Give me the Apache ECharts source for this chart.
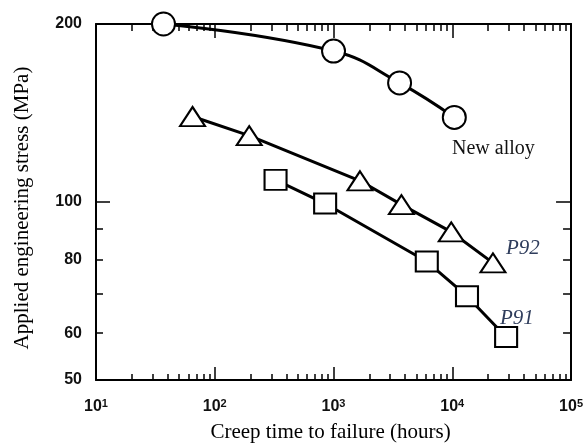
<!DOCTYPE html>
<html><head><meta charset="utf-8">
<script src="https://cdn.jsdelivr.net/npm/echarts@6/dist/echarts.min.js"></script>
<style>html,body{margin:0;padding:0;background:#fff}#c{width:586px;height:448px}</style>
</head><body><div id="c"></div>
<script>
// ---- data ----
const newAlloyHours  = [37, 1000, 3600, 10400];
const newAlloyStress = [200, 180, 159, 139];
const p92Hours  = [65, 195, 1670, 3730, 9800, 22000];
const p92Stress = [139.5, 129.5, 108.6, 99, 89, 78.9];
const p91Hours  = [325, 850, 6100, 13300, 28400];
const p91Stress = [109, 99.4, 79.3, 69.3, 59.1];

// ---- ticks / labels ----
const xMajorTicks = [10, 100, 1000, 10000, 100000];
const xMinorTicks = [20,30,40,50,60,70,80,90, 200,300,400,500,600,700,800,900,
                     2000,3000,4000,5000,6000,7000,8000,9000,
                     20000,30000,40000,50000,60000,70000,80000,90000];
const yLabelValues = [50, 60, 80, 100, 200];
const yMajorTicks = [100];
const yMinorTicks = [60, 70, 80, 90];
const xTitle = 'Creep time to failure (hours)';
const yTitle = 'Applied engineering stress (MPa)';
const seriesNames = ['New alloy', 'P92', 'P91'];

const X_MIN = 10, X_MAX = 100000, Y_MIN = 50, Y_MAX = 200;
const serif = '"Liberation Serif", "Times New Roman", serif';
const sans = '"Liberation Sans", Arial, sans-serif';

function zip(xs, ys) { return xs.map((x, i) => [x, ys[i]]); }

function xAx(pos, ticks, len, opts) {
  return Object.assign({
    type: 'log', logBase: 10, min: X_MIN, max: X_MAX, position: pos,
    axisLine: { show: true, onZero: false, lineStyle: { color: '#000', width: 2 } },
    axisTick: { show: true, inside: true, length: len, customValues: ticks, lineStyle: { color: '#000', width: 1.5 } },
    axisLabel: { show: false },
    splitLine: { show: false }, minorTick: { show: false }, minorSplitLine: { show: false }
  }, opts || {});
}
function yAx(pos, ticks, len, opts) {
  return Object.assign({
    type: 'log', logBase: 10, min: Y_MIN, max: Y_MAX, position: pos,
    axisLine: { show: true, onZero: false, lineStyle: { color: '#000', width: 2 } },
    axisTick: { show: true, inside: true, length: len, customValues: ticks, lineStyle: { color: '#000', width: 1.5 } },
    axisLabel: { show: false },
    splitLine: { show: false }, minorTick: { show: false }, minorSplitLine: { show: false }
  }, opts || {});
}

const chart = echarts.init(document.getElementById('c'), null, { renderer: 'canvas' });
const lineStyle = { color: '#000', width: 3 };
const symStyle = { color: '#fff', borderColor: '#000', borderWidth: 2 };

chart.setOption({
  animation: false,
  backgroundColor: '#fff',
  grid: { left: 96, right: 12, top: 24, bottom: 62, containLabel: false },
  xAxis: [
    xAx('bottom', xMajorTicks, 13, {
      axisLabel: {
        show: true, customValues: xMajorTicks, margin: 18,
        formatter: v => '{b|10}{s|' + Math.round(Math.log10(v)) + '}',
        rich: {
          b: { fontFamily: sans, fontWeight: 'bold', fontSize: 16, color: '#111' },
          s: { fontFamily: sans, fontWeight: 'bold', fontSize: 11, color: '#111', verticalAlign: 'top', padding: [0, 0, 6, 0] }
        }
      },
      name: xTitle, nameLocation: 'middle', nameGap: 42,
      nameTextStyle: { fontFamily: serif, fontSize: 21, color: '#000', padding: [0, 6, 0, 0] }
    }),
    xAx('bottom', xMinorTicks, 6, { axisLine: { show: false } }),
    xAx('top', xMajorTicks, 14),
    xAx('top', xMinorTicks, 7, { axisLine: { show: false } })
  ],
  yAxis: [
    yAx('left', yMajorTicks, 14, {
      axisLabel: {
        show: true, customValues: yLabelValues, margin: 14,
        fontFamily: sans, fontWeight: 'bold', fontSize: 16, color: '#111'
      },
      name: yTitle, nameLocation: 'middle', nameGap: 63,
      nameTextStyle: { fontFamily: serif, fontSize: 21, color: '#000', padding: [0, 12, 0, 0] }
    }),
    yAx('left', yMinorTicks, 7, { axisLine: { show: false } }),
    yAx('right', yMajorTicks, 15),
    yAx('right', yMinorTicks, 8, { axisLine: { show: false } })
  ],
  series: [
    { name: seriesNames[0], type: 'line', xAxisIndex: 0, yAxisIndex: 0, clip: false,
      data: zip(newAlloyHours, newAlloyStress), smooth: 0.45,
      symbol: 'circle', symbolSize: 23, lineStyle, itemStyle: symStyle },
    { name: seriesNames[1], type: 'line', xAxisIndex: 0, yAxisIndex: 0, clip: false,
      data: zip(p92Hours, p92Stress),
      symbol: 'triangle', symbolSize: [25, 19], lineStyle, itemStyle: symStyle },
    { name: seriesNames[2], type: 'line', xAxisIndex: 0, yAxisIndex: 0, clip: false,
      data: zip(p91Hours, p91Stress),
      symbol: 'rect', symbolSize: [22, 20], lineStyle, itemStyle: symStyle }
  ],
  graphic: [
    { type: 'text', left: 452, top: 139, style: { text: seriesNames[0], font: '20px ' + serif, fill: '#111' } },
    { type: 'text', left: 506, top: 238, style: { text: seriesNames[1], font: 'italic 21px ' + serif, fill: '#2f3d5c' } },
    { type: 'text', left: 500, top: 308, style: { text: seriesNames[2], font: 'italic 21px ' + serif, fill: '#2f3d5c' } }
  ]
});
</script></body></html>
